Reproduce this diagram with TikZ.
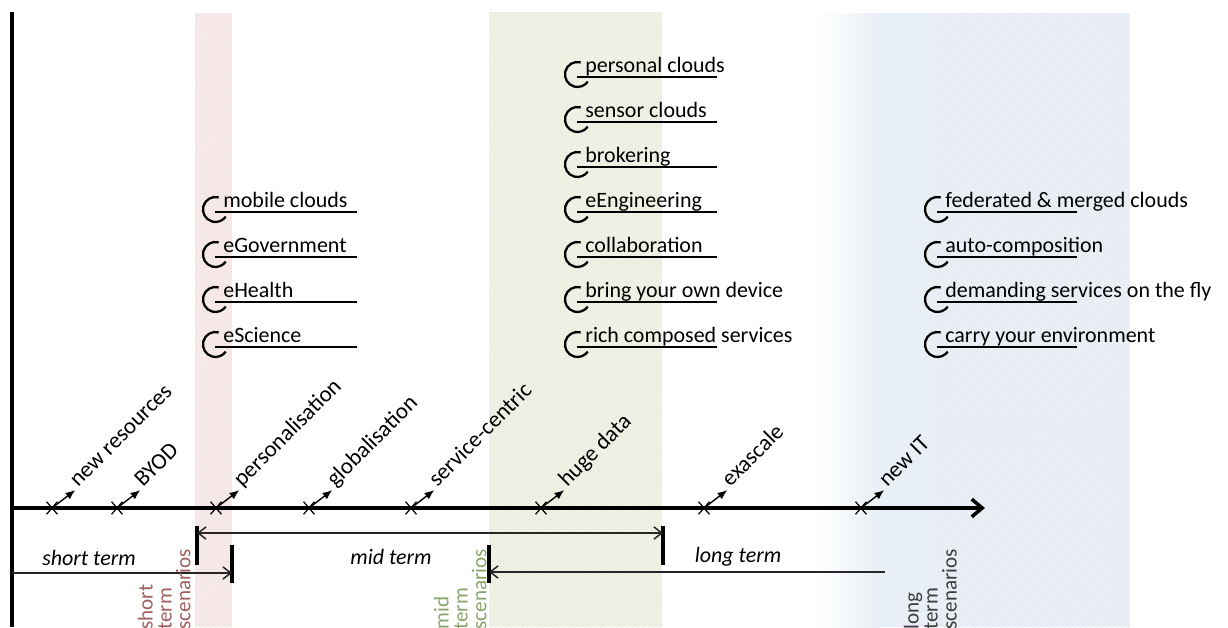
\documentclass[tikz,border=0pt]{standalone}
\usepackage{fontspec}
\setmainfont{Carlito}
\usetikzlibrary{arrows.meta,patterns,shapes.misc,positioning}

\definecolor{shortband}{HTML}{F8E8E8}
\definecolor{midband}{HTML}{EFF2E2}
\definecolor{longband}{HTML}{E8EFF6}
\definecolor{shorttext}{HTML}{A0605E}
\definecolor{midtext}{HTML}{8CA36C}
\definecolor{longtext}{HTML}{3C3C3C}

\begin{document}
\begin{tikzpicture}[x=0.02cm, y=0.02cm,
    font=\fontsize{12.5}{14}\selectfont,
    banddots/.style={pattern=crosshatch dots, pattern color=black!9},
    tick/.style={cross out, draw, line width=0.7pt, minimum width=5.5pt, minimum height=6.5pt, inner sep=0pt},
    event/.style={rotate=45, anchor=base west, inner sep=0pt, font=\fontsize{13}{15}\selectfont},
    eventarrow/.style={line width=0.8pt, shorten >=2pt, -{Latex[length=5.5pt,width=4.5pt]}},
    item/.style={anchor=base west, inner sep=0pt},
    pics/hookline/.style={code={
        \draw[line width=1.3pt] (15.7,14.6) arc[start angle=75, end angle=325, radius=12.5];
        \draw[line width=1.2pt] (12,0) -- (#1,0);}},
    termbar/.style={line width=2pt},
    termline/.style={line width=0.85pt, black!85, >={Straight Barb[length=4.5pt,width=7pt]}},
    termlbl/.style={font=\fontsize{12.5}{14}\selectfont\itshape},
    scenario/.style={rotate=90, anchor=south west, align=left, inner sep=0pt, font=\fontsize{12}{10.8}\selectfont}]
    \useasboundingbox (0,0) rectangle (1228,627);

    % Bandes des scenarios
    \fill[shortband] (195,0) rectangle (232,614);
    \fill[banddots] (195,0) rectangle (232,614);
    \fill[midband] (489,0) rectangle (662,615);
    \fill[banddots] (489,0) rectangle (662,615);
    \shade[left color=white, right color=longband] (815,0) rectangle (880,614);
    \fill[longband] (880,0) rectangle (1130,614);
    \fill[banddots] (930,0) rectangle (1130,614);

    % Axes
    \coordinate (top) at (12,615);
    \coordinate (bottom) at (12,0);
    \coordinate (origin) at (12,119);
    \coordinate (future) at (985,119);
    \draw[line width=2.2pt] (bottom) -- (top);
    \draw[line width=2pt, -{Straight Barb[length=6pt,width=10pt]}] (origin) -- (future);

    % Evenements sur l'axe du temps
    \node[tick] (newres) at (52,119) {};
    \node[tick] (byod) at (117,119) {};
    \node[tick] (perso) at (216,119) {};
    \node[tick] (global) at (309,119) {};
    \node[tick] (service) at (411,119) {};
    \node[tick] (huge) at (541,119) {};
    \node[tick] (exa) at (704,119) {};
    \node[tick] (newit) at (861,119) {};
    \node[event] (newreslbl) at ([shift={(26,20)}]newres) {new resources};
    \node[event] (byodlbl) at ([shift={(26,20)}]byod) {BYOD};
    \node[event] (persolbl) at ([shift={(26,20)}]perso) {personalisation};
    \node[event] (globallbl) at ([shift={(26,20)}]global) {globalisation};
    \node[event] (servicelbl) at ([shift={(26,20)}]service) {service-centric};
    \node[event] (hugelbl) at ([shift={(26,20)}]huge) {huge data};
    \node[event] (exalbl) at ([shift={(26,20)}]exa) {exascale};
    \node[event] (newitlbl) at ([shift={(26,20)}]newit) {new IT};
    \draw[eventarrow] (newres.center) -- (newreslbl.base west);
    \draw[eventarrow] (byod.center) -- (byodlbl.base west);
    \draw[eventarrow] (perso.center) -- (persolbl.base west);
    \draw[eventarrow] (global.center) -- (globallbl.base west);
    \draw[eventarrow] (service.center) -- (servicelbl.base west);
    \draw[eventarrow] (huge.center) -- (hugelbl.base west);
    \draw[eventarrow] (exa.center) -- (exalbl.base west);
    \draw[eventarrow] (newit.center) -- (newitlbl.base west);

    % Periodes
    \coordinate (shortstart) at (12,54);
    \coordinate (shortend) at (232,54);
    \coordinate (midstart) at (197,94);
    \coordinate (midend) at (663,94);
    \coordinate (longstart) at (885,55);
    \coordinate (longend) at (489,55);
    \draw[termbar] (232,44) -- (232,82);
    \draw[termbar] (197,62) -- (197,101);
    \draw[termbar] (663,62) -- (663,101);
    \draw[termbar] (489,44) -- (489,82);
    \draw[termline, ->] (shortstart) -- (shortend);
    \draw[termline, <->] (midstart) -- (midend);
    \draw[termline, ->] (longstart) -- (longend);
    \node[termlbl] (shortlbl) at (89,69) {short term};
    \node[termlbl] (midlbl) at (391,70) {mid term};
    \node[termlbl] (longlbl) at (738,70) {long term};
    \node[scenario, text=shorttext] (shortscen) at (191,-3) {short\\term\\scenarios};
    \node[scenario, text=midtext] (midscen) at (487,-3) {mid\\term\\scenarios};
    \node[scenario, text=longtext] (longscen) at (957,-3) {long\\term\\scenarios};

    % Scenarios a court terme
    \pic at (203,415) {hookline=154};
    \pic at (203,370) {hookline=154};
    \pic at (203,325) {hookline=154};
    \pic at (203,280) {hookline=154};
    \node[item] (mobile) at (223,420) {mobile clouds};
    \node[item] (egov) at (223,375) {eGovernment};
    \node[item] (ehealth) at (223,330) {eHealth};
    \node[item] (escience) at (223,285) {eScience};

    % Scenarios a moyen terme
    \pic at (565,550) {hookline=152};
    \pic at (565,505) {hookline=152};
    \pic at (565,460) {hookline=152};
    \pic at (565,415) {hookline=152};
    \pic at (565,370) {hookline=152};
    \pic at (565,325) {hookline=152};
    \pic at (565,280) {hookline=152};
    \node[item] (personal) at (585,555) {personal clouds};
    \node[item] (sensor) at (585,510) {sensor clouds};
    \node[item] (broker) at (585,465) {brokering};
    \node[item] (eeng) at (585,420) {eEngineering};
    \node[item] (collab) at (585,375) {collaboration};
    \node[item] (bringdev) at (585,330) {bring your own device};
    \node[item] (rich) at (585,285) {rich composed services};

    % Scenarios a long terme
    \pic at (925,415) {hookline=152};
    \pic at (925,370) {hookline=152};
    \pic at (925,325) {hookline=152};
    \pic at (925,280) {hookline=152};
    \node[item] (federated) at (945,420) {federated \& merged clouds};
    \node[item] (autocomp) at (945,375) {auto-composition};
    \node[item] (demand) at (945,330) {demanding services on the fly};
    \node[item] (carry) at (945,285) {carry your environment};
\end{tikzpicture}
\end{document}
